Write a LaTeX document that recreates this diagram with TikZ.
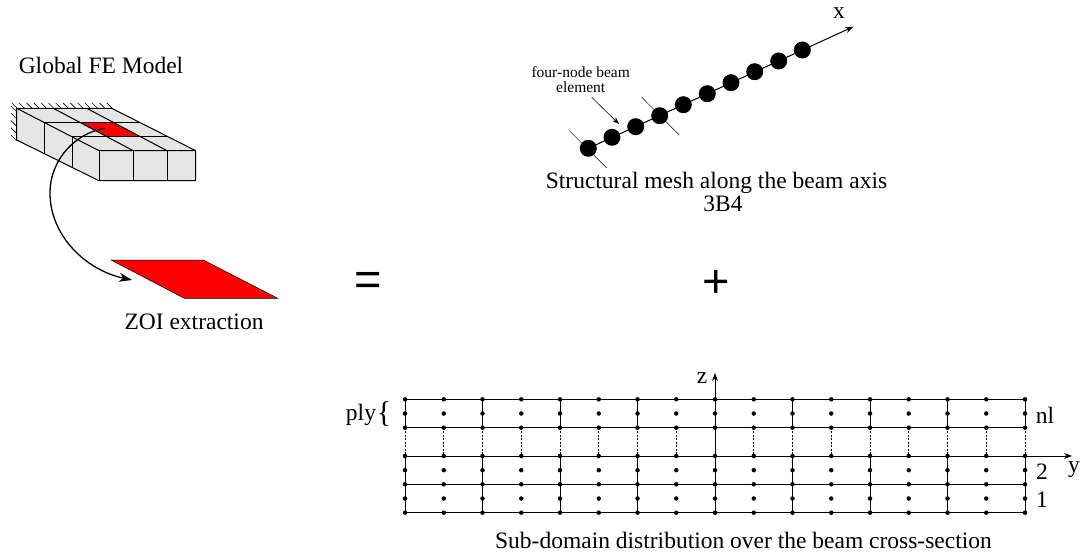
\documentclass[tikz,border=0pt]{standalone}
\usepackage{fontspec}
\setmainfont{Liberation Serif}
\newfontfamily\symbfont{Liberation Sans}
\usetikzlibrary{arrows.meta, positioning, calc}
\definecolor{meshgray}{RGB}{230, 230, 230}
\definecolor{zoired}{RGB}{255, 0, 0}

\begin{document}
\begin{tikzpicture}[
    x=1pt, y=-1pt,
    edge/.style={draw=black, line width=1pt},
    label/.style={font=\fontsize{23.5}{24}\selectfont, inner sep=0pt, align=center},
    small/.style={font=\fontsize{15.5}{15}\selectfont, inner sep=0pt, align=center},
    big/.style={font=\symbfont\fontsize{47}{48}\selectfont, inner sep=0pt},
    meshnode/.style={circle, fill=black, inner sep=0pt, minimum size=17pt},
    gridnode/.style={circle, fill=black, inner sep=0pt, minimum size=4.5pt},
    axis/.style={-{Stealth[length=8pt, width=6pt]}, line width=1pt},
    hatch/.style={line width=0.6pt},
    tick/.style={line width=0.5pt}
]
\useasboundingbox (0,0) rectangle (1084,556);

%% Global model
\node[label] (global) at (101, 65) {Global FE Model};

\foreach \hx in {12,19.3,...,110} {
  \draw[hatch] (\hx,103) -- ++(5,5);
}
\foreach \hy in {106,113.3,...,138} {
  \draw[hatch] (11,\hy) -- ++(5.5,5.5);
}

\fill[meshgray] (16.7,108.3) -- (111.7,108.3) -- (195.7,150.7) -- (195.7,180.7)
  -- (99,180.7) -- (16.7,140) -- cycle;
\fill[zoired] (80.5,122.7) -- (114,122.7) -- (140,136.7) -- (106.9,136.7) -- cycle;

\draw[edge] (16.7,108.3) -- (111.7,108.3) -- (195.7,150.7) -- (195.7,180.7)
  -- (99,180.7) -- (16.7,140) -- cycle;
\draw[edge] (16.7,108.3) -- (99,150.7) -- (195.7,150.7);
\draw[edge] (99,150.7) -- (99,180.7);
\draw[edge] (133.3,150.7) -- (133.3,180.7);
\draw[edge] (167,150.7) -- (167,180.7);
\draw[edge] (44,122.7) -- (44,152.7);
\draw[edge] (72.3,136.7) -- (72.3,166.7);
\draw[edge] (44,122.7) -- (139,122.7);
\draw[edge] (72.3,136.7) -- (167.3,136.7);
\draw[edge] (53.3,108.3) -- (133.3,150.7);
\draw[edge] (86.7,108.3) -- (167,150.7);

%% ZOI
\coordinate (zoistart) at (105,128.3);
\coordinate (zoibend) at (50,193);
\coordinate (zoiend) at (132,280);
\draw[-{Stealth[length=13pt, width=9pt]}, line width=1.3pt] (zoistart)
  .. controls (75,133) and (50,160) .. (zoibend)
  .. controls (50,235) and (85,270) .. (zoiend);

\fill[zoired, draw=black, line width=0.5pt] (111,260) -- (203.3,260) -- (277.7,298.3) -- (184.3,298.3) -- cycle;
\node[label] (zoi) at (194, 322) {ZOI extraction};

\node[big] (equal) at (368, 284) {=};
\node[big] (plus) at (716, 284) {+};

%% Beam axis
\foreach \i/\px/\py in {1/588.3/148.3, 2/612/137.3, 3/635.7/126.7, 4/659.7/115.7, 5/683.3/104.7,
                        6/707.3/93.7, 7/731/82.7, 8/754.7/71.7, 9/778.7/61, 10/802.3/50} {
  \node[meshnode] (m\i) at (\px,\py) {};
}
\coordinate (xtip) at (853.3,26.7);
\draw[axis] (m1.center) -- (xtip);
\node[label] (xlab) at (839, 13) {x};

\draw[tick] (569.3,130.7) -- (606.7,168);
\draw[tick] (641.7,97.3) -- (679.3,135);

\node[small] (elem) at (580.7, 79.5) {four-node beam\\element};
\coordinate (elemfrom) at (591.7,97.3);
\coordinate (elemto) at (619,124);
\draw[-{Stealth[length=7pt, width=5pt]}, line width=0.6pt] (elemfrom) -- (elemto);

\node[label] (mesh) at (716.5, 182.5) {Structural mesh along the beam axis};
\node[label] (meshtype) at (723, 204) {3B4};

%% Cross-section
\foreach \zz in {399.3,427.7,456,484.3,512.7} {
  \draw[edge] (405,\zz) -- (1025,\zz);
}
\foreach \c in {0,...,16} {
  \pgfmathsetmacro{\cx}{405+38.75*\c}
  \draw[line width=1pt, dash pattern=on 2pt off 1.5pt] (\cx,427.7) -- (\cx,456);
  \foreach \zz in {399.3,427.7,456,484.3,512.7} {
    \node[gridnode] at (\cx,\zz) {};
  }
  \foreach \zz in {413.5,470.2,498.5} {
    \node[gridnode] at (\cx,\zz) {};
  }
}
\foreach \c in {0,2,...,16} {
  \pgfmathsetmacro{\cx}{405+38.75*\c}
  \draw[edge] (\cx,399.3) -- (\cx,427.7);
  \draw[edge] (\cx,456) -- (\cx,512.7);
}

\coordinate (zbase) at (715,512.7);
\coordinate (ztip) at (715,373);
\coordinate (ybase) at (405,456);
\coordinate (ytip) at (1072,456);
\draw[axis] (zbase) -- (ztip);
\draw[axis] (ybase) -- (ytip);

\node[label] (zlab) at (702, 378) {z};
\node[label] (ylab) at (1074, 470) {y};
\node[label] (nl) at (1045, 415) {nl};
\node[label] (two) at (1042, 471.5) {2};
\node[label] (one) at (1042, 500) {1};
\node[label] (ply) at (361, 415) {ply};
\node[font=\fontsize{30}{30}\selectfont, inner sep=0pt] (brace) at (384, 414) {\{};

\node[label] (sub) at (743.5, 540) {Sub-domain distribution over the beam cross-section};

\end{tikzpicture}
\end{document}
